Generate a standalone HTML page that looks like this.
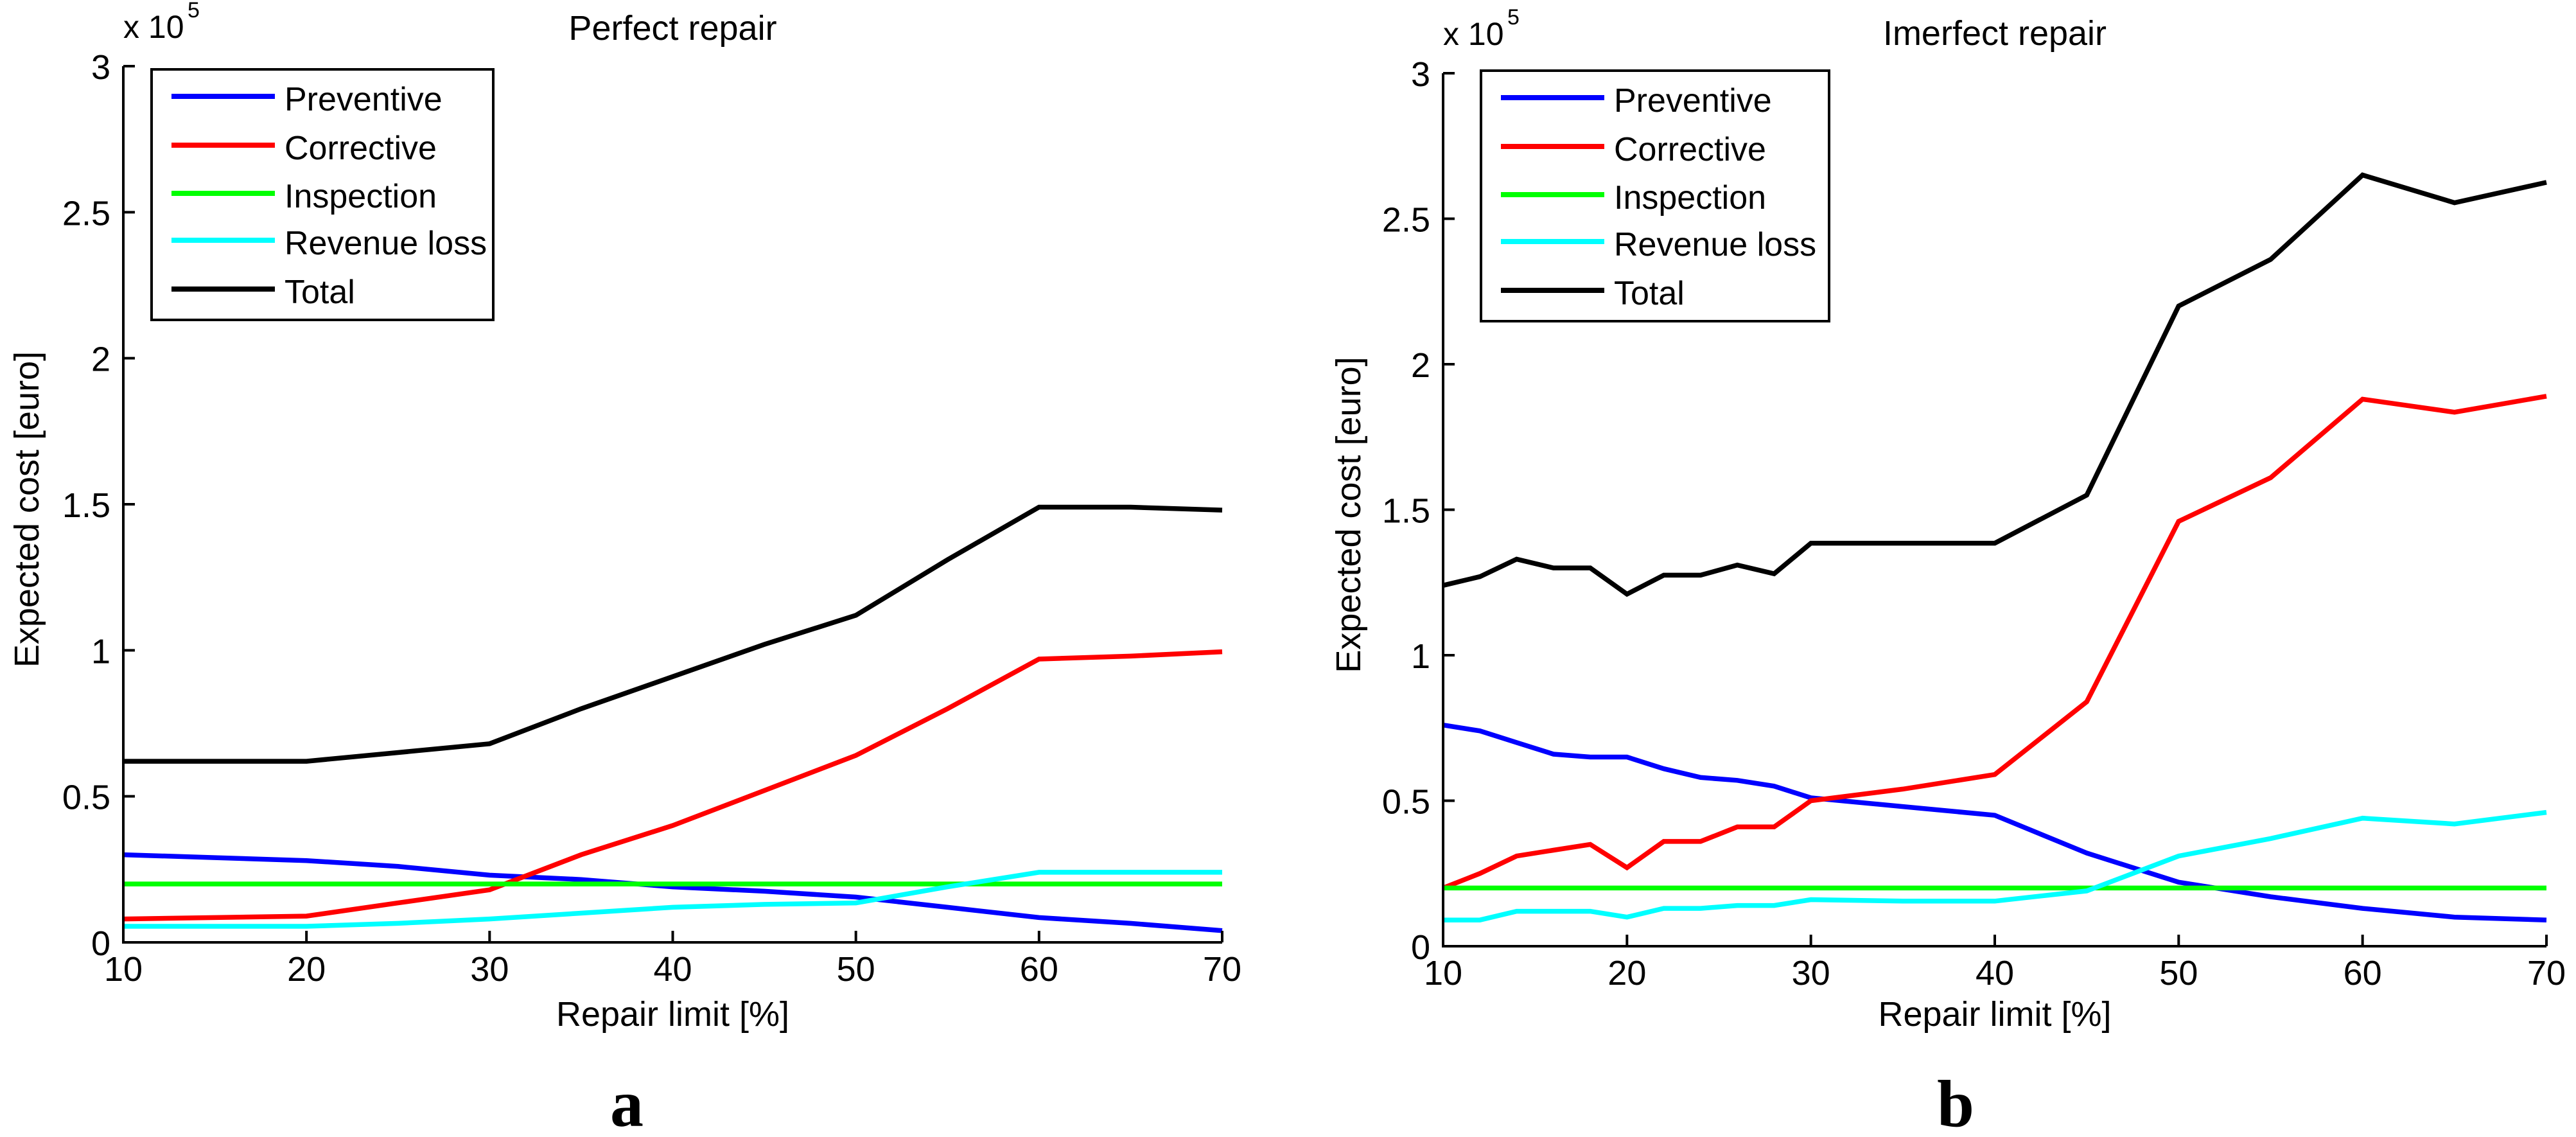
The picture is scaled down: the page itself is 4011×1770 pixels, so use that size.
<!DOCTYPE html>
<html><head><meta charset="utf-8"><style>
html,body{margin:0;padding:0;background:#fff;}
svg{display:block;}
text{font-family:"Liberation Sans",sans-serif;fill:#000;}
</style></head><body>
<svg id="fig" width="4011" height="1770" viewBox="0 0 4011 1770" xmlns="http://www.w3.org/2000/svg"></svg>
<script>
// ---- Data ----
const xTicks = [10,20,30,40,50,60,70];
const yTicks = [0,0.5,1,1.5,2,2.5,3];
const yTickLabels = ['0','0.5','1','1.5','2','2.5','3'];
const seriesNames = ['Preventive','Corrective','Inspection','Revenue loss','Total'];
const seriesColors = ['#0000ff','#ff0000','#00ff00','#00ffff','#000000'];

// Panel a (Perfect repair)
const xA = [10,15,20,25,30,35,40,45,50,55,60,65,70];
const prevA = [0.30,0.29,0.28,0.26,0.23,0.215,0.19,0.175,0.155,0.12,0.085,0.065,0.04];
const corrA = [0.08,0.085,0.09,0.135,0.18,0.30,0.40,0.52,0.64,0.80,0.97,0.98,0.995];
const inspA = [0.2,0.2,0.2,0.2,0.2,0.2,0.2,0.2,0.2,0.2,0.2,0.2,0.2];
const revA  = [0.055,0.055,0.055,0.065,0.08,0.10,0.12,0.13,0.135,0.19,0.24,0.24,0.24];
const totA  = [0.62,0.62,0.62,0.65,0.68,0.80,0.91,1.02,1.12,1.31,1.49,1.49,1.48];

// Panel b (Imperfect repair)
const xB = [10,12,14,16,18,20,22,24,26,28,30,35,40,45,50,55,60,65,70];
const prevB = [0.76,0.74,0.70,0.66,0.65,0.65,0.61,0.58,0.57,0.55,0.51,0.48,0.45,0.32,0.22,0.17,0.13,0.10,0.09];
const corrB = [0.20,0.25,0.31,0.33,0.35,0.27,0.36,0.36,0.41,0.41,0.50,0.54,0.59,0.84,1.46,1.61,1.88,1.835,1.89];
const inspB = [0.2,0.2,0.2,0.2,0.2,0.2,0.2,0.2,0.2,0.2,0.2,0.2,0.2,0.2,0.2,0.2,0.2,0.2,0.2];
const revB  = [0.09,0.09,0.12,0.12,0.12,0.10,0.13,0.13,0.14,0.14,0.16,0.155,0.155,0.19,0.31,0.37,0.44,0.42,0.46];
const totB  = [1.24,1.27,1.33,1.30,1.30,1.21,1.275,1.275,1.31,1.28,1.385,1.385,1.385,1.55,2.20,2.36,2.65,2.555,2.625];

const NS = 'http://www.w3.org/2000/svg';
const svg = document.getElementById('fig');
function mk(tag, attrs, parent){
  const e = document.createElementNS(NS, tag);
  for (const k in attrs) e.setAttribute(k, attrs[k]);
  (parent||svg).appendChild(e);
  return e;
}

function panel(cfg){
  const g = mk('g', {});
  
  
  const L=cfg.left, R=cfg.right, T=cfg.top, B=cfg.bottom;
  const sx = v => L + (v-10)/60*(R-L);
  const sy = v => B - v/3*(B-T);

  // series
  const ys = [cfg.prev, cfg.corr, cfg.insp, cfg.rev, cfg.tot];
  for (let s=0; s<ys.length; s++){
    const pts = cfg.x.map((xv,i)=> sx(xv).toFixed(1)+','+sy(ys[s][i]).toFixed(1)).join(' ');
    const pl = mk('polyline', {points:pts, fill:'none', stroke:seriesColors[s], 'stroke-width':7.5, 'stroke-linejoin':'miter'}, g);
    
    
  }

  // axes
  const ax = mk('path', {d:`M${L},${T} L${L},${B} L${R},${B}`, fill:'none', stroke:'#000', 'stroke-width':4}, g);
  
  

  xTicks.forEach(v=>{
    mk('line', {x1:sx(v), x2:sx(v), y1:B, y2:B-18, stroke:'#000', 'stroke-width':4}, g);
    const t = mk('text', {x:sx(v), y:B+60, 'font-size':54, 'text-anchor':'middle'}, g);
    t.textContent = v;
    
    
  });
  yTicks.forEach((v,i)=>{
    mk('line', {x1:L, x2:L+18, y1:sy(v), y2:sy(v), stroke:'#000', 'stroke-width':4}, g);
    const t = mk('text', {x:L-20, y:sy(v)+20, 'font-size':54, 'text-anchor':'end'}, g);
    t.textContent = yTickLabels[i];
    
    
  });

  // exponent
  const ex = mk('text', {x:L, y:T-44, 'font-size':50}, g);
  ex.textContent = 'x 10';
  
  
  const ex5 = mk('text', {x:L+100, y:T-76, 'font-size':34}, g);
  ex5.textContent = '5';
  
  

  // title
  const ti = mk('text', {x:(L+R)/2, y:cfg.titleY, 'font-size':54, 'text-anchor':'middle'}, g);
  ti.textContent = cfg.title;
  
  

  // axis labels
  const xl = mk('text', {x:(L+R)/2, y:1597, 'font-size':54, 'text-anchor':'middle'}, g);
  xl.textContent = 'Repair limit [%]';
  
  
  const yl = mk('text', {x:0, y:0, 'font-size':54, 'text-anchor':'middle', transform:`translate(${cfg.ylabX},${(T+B)/2+8}) rotate(-90)`}, g);
  yl.textContent = 'Expected cost [euro]';
  
  

  // legend
  const lg = mk('g', {}, g);
  
  
  mk('rect', {x:cfg.lgX, y:cfg.lgY, width:cfg.lgW, height:390, fill:'#fff', stroke:'#000', 'stroke-width':4}, lg);
  const rowY = [42,118,193,266,342];
  seriesNames.forEach((n,i)=>{
    const e = mk('g', {}, lg);
    
    
    mk('line', {x1:cfg.lgX+31, x2:cfg.lgX+192, y1:cfg.lgY+rowY[i], y2:cfg.lgY+rowY[i], stroke:seriesColors[i], 'stroke-width':8}, e);
    const t = mk('text', {x:cfg.lgX+207, y:cfg.lgY+rowY[i]+22, 'font-size':52}, e);
    t.textContent = n;
  });

  // panel letter
  const pl = mk('text', {x:cfg.letterX, y:1753, 'font-size':104, 'font-weight':'bold', 'text-anchor':'middle', style:'font-family:"Liberation Serif",serif'}, g);
  pl.textContent = cfg.letter;
  
  
}

panel({id:'panel-a', left:192, right:1903, top:103, bottom:1467, x:xA, prev:prevA, corr:corrA, insp:inspA, rev:revA, tot:totA,
  title:'Perfect repair', titleY:62, ylabX:60, lgX:236, lgY:108, lgW:532, letter:'a', letterX:976});
panel({id:'panel-b', left:2247, right:3965, top:114, bottom:1473, x:xB, prev:prevB, corr:corrB, insp:inspB, rev:revB, tot:totB,
  title:'Imerfect repair', titleY:70, ylabX:2118, lgX:2306, lgY:110, lgW:542, letter:'b', letterX:3045});
</script>
</body></html>
